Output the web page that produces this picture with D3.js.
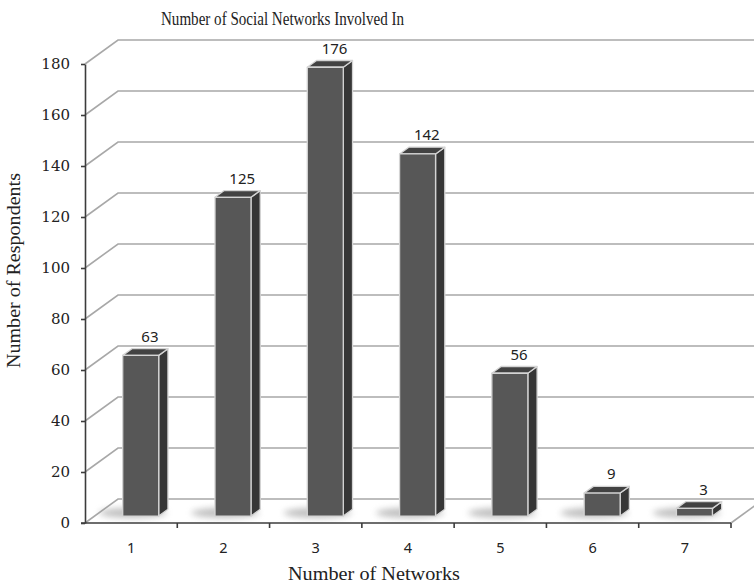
<!DOCTYPE html>
<html>
<head>
<meta charset="utf-8">
<script src="https://cdn.jsdelivr.net/npm/d3@7"></script>
<style>
  html, body { margin: 0; padding: 0; background: #fff; }
  svg { display: block; }
</style>
</head>
<body>
<svg id="chart" width="754" height="586"></svg>
<script>
// Respondents by number of social networks they belong to
const categories = ["1", "2", "3", "4", "5", "6", "7"];
const respondents = [63, 125, 176, 142, 56, 9, 3];
const yTickValues = [0, 20, 40, 60, 80, 100, 120, 140, 160, 180];

const chartTitle = "Number of Social Networks Involved In";
const xTitle = "Number of Networks";
const yTitle = "Number of Respondents";

const svg = d3.select("#chart");

// Front plane of the 3-D plot area
const plotLeft = 85, plotRight = 731, plotBottom = 523, plotTop = 64;
// Depth offset of the back wall
const DX = 33, DY = -24;
// Bars sit between these fractions of the depth
const F0 = 0.29, F1 = 0.57;

const x = d3.scaleBand().domain(categories).range([plotLeft, plotRight]).paddingInner(0).paddingOuter(0);
const y = d3.scaleLinear().domain([0, 180]).range([plotBottom, plotTop]);
const bw = x.bandwidth();
const barW = bw * 0.39;

const P = (px, py, f) => [px + DX * f, py + DY * f];
const poly = pts => "M" + pts.map(p => p.join(",")).join("L") + "Z";

const defs = svg.append("defs");
const blur = defs.append("filter").attr("id", "soft").attr("x", "-50%").attr("y", "-50%").attr("width", "200%").attr("height", "200%");
blur.append("feGaussianBlur").attr("stdDeviation", 3);

// Back wall and left wall gridlines
const grid = svg.append("g").attr("fill", "none").attr("stroke", "#a8a8a8").attr("stroke-width", 1.6);
yTickValues.forEach(t => {
  const yy = y(t);
  grid.append("path")
    .attr("d", `M${plotLeft},${yy}L${plotLeft + DX},${yy + DY}L${plotRight + DX},${yy + DY}`);
});
// Right edge of the floor
grid.append("path").attr("d", `M${plotRight},${plotBottom}L${plotRight + DX},${plotBottom + DY}`);

const rows = categories.map((c, i) => ({ c, v: respondents[i] }));

// Soft shadows on the floor, trailing to the left of each bar base
svg.append("g").selectAll("ellipse")
  .data(rows)
  .join("ellipse")
  .attr("cx", d => x(d.c) + bw / 2 + DX * 0.3 - 8)
  .attr("cy", plotBottom + DY * 0.42)
  .attr("rx", barW / 2 + 16)
  .attr("ry", 5)
  .attr("fill", "#8c8c8c")
  .attr("opacity", 0.55)
  .attr("filter", "url(#soft)");

// Bars
const bars = svg.append("g").selectAll("g")
  .data(rows)
  .join("g")
  .attr("stroke", "#d4d4d4")
  .attr("stroke-width", 1.3)
  .attr("stroke-linejoin", "round");

bars.each(function (d) {
  const g = d3.select(this);
  const xl = x(d.c) + (bw - barW) / 2, xr = xl + barW;
  const yt = y(d.v), yb = y(0);
  // side face
  g.append("path").attr("fill", "#363636")
    .attr("d", poly([P(xr, yt, F0), P(xr, yt, F1), P(xr, yb, F1), P(xr, yb, F0)]));
  // top face
  g.append("path").attr("fill", "#424242")
    .attr("d", poly([P(xl, yt, F0), P(xr, yt, F0), P(xr, yt, F1), P(xl, yt, F1)]));
  // front face
  g.append("path").attr("fill", "#575757")
    .attr("d", poly([P(xl, yt, F0), P(xr, yt, F0), P(xr, yb, F0), P(xl, yb, F0)]));
});

// Value labels above each bar
svg.append("g").selectAll("text")
  .data(rows)
  .join("text")
  .attr("x", d => x(d.c) + bw / 2 + DX * F1)
  .attr("y", d => y(d.v) + DY * F1 - 7)
  .attr("text-anchor", "middle")
  .attr("font-family", "'Noto Sans', sans-serif")
  .attr("font-size", 15)
  .attr("fill", "#222")
  .text(d => d.v);

// Y axis
const yAxis = svg.append("g")
  .attr("transform", `translate(${plotLeft},0)`)
  .call(d3.axisLeft(y).tickValues(yTickValues).tickSize(4).tickSizeOuter(0).tickPadding(11));
yAxis.select(".domain").attr("stroke", "#3c3c3c").attr("stroke-width", 1.6);
yAxis.selectAll(".tick line").attr("stroke", "#3c3c3c").attr("stroke-width", 1.6);
yAxis.selectAll(".tick text")
  .attr("font-family", "'DejaVu Serif', serif")
  .attr("font-size", 15)
  .attr("fill", "#222");

// X axis: labels at band centres, tick marks at band boundaries
const xAxis = svg.append("g")
  .attr("transform", `translate(0,${plotBottom})`)
  .call(d3.axisBottom(x).tickSize(0).tickPadding(20).tickSizeOuter(0));
xAxis.select(".domain").attr("stroke", "#3c3c3c").attr("stroke-width", 1.6)
  .attr("d", `M${plotLeft - 4},0H${plotRight}`);
xAxis.selectAll(".tick text")
  .attr("font-family", "'Noto Sans', sans-serif")
  .attr("font-size", 14.5)
  .attr("fill", "#222");
xAxis.append("g").selectAll("line")
  .data(categories)
  .join("line")
  .attr("x1", d => x(d) + bw).attr("x2", d => x(d) + bw)
  .attr("y1", 0).attr("y2", 5)
  .attr("stroke", "#3c3c3c").attr("stroke-width", 1.6);

// Titles
svg.append("text")
  .attr("transform", "translate(282.5,25) scale(0.815,1)")
  .attr("text-anchor", "middle")
  .attr("font-family", "'Liberation Serif', 'Times New Roman', serif")
  .attr("font-size", 18.5)
  .attr("fill", "#222")
  .text(chartTitle);

svg.append("text")
  .attr("x", 374).attr("y", 580)
  .attr("text-anchor", "middle")
  .attr("font-family", "'Liberation Serif', 'Times New Roman', serif")
  .attr("font-size", 18)
  .attr("fill", "#222")
  .attr("textLength", 172).attr("lengthAdjust", "spacingAndGlyphs")
  .text(xTitle);

svg.append("text")
  .attr("transform", "translate(20,270.5) rotate(-90)")
  .attr("text-anchor", "middle")
  .attr("font-family", "'Liberation Serif', 'Times New Roman', serif")
  .attr("font-size", 18)
  .attr("fill", "#222")
  .attr("textLength", 195).attr("lengthAdjust", "spacingAndGlyphs")
  .text(yTitle);
</script>
</body>
</html>
